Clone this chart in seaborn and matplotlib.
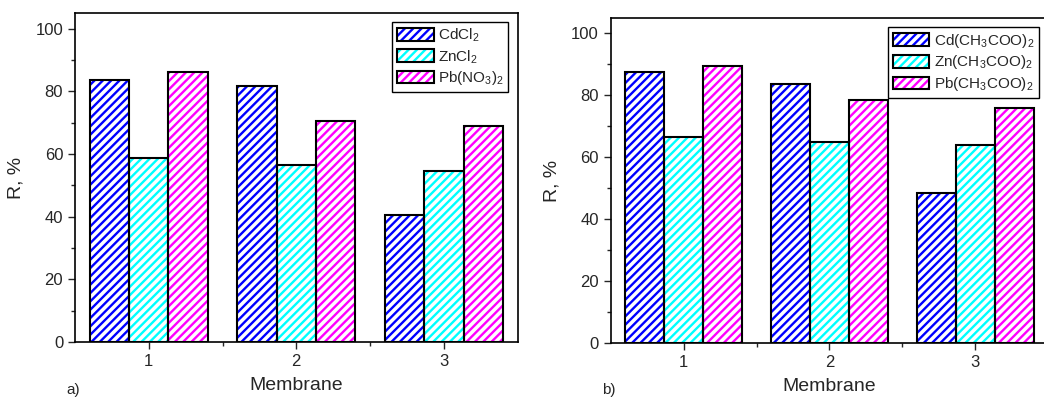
import numpy as np
import pandas as pd
import matplotlib
matplotlib.use("Agg")
import matplotlib.pyplot as plt
import seaborn as sns
from matplotlib.patches import Patch, Rectangle
from matplotlib.legend_handler import HandlerTuple

# data
membranes = ["1", "2", "3"]
colors = ["#0000ff", "#00ffff", "#ff00ff"]

labels_a = ["CdCl$_2$", "ZnCl$_2$", "Pb(NO$_3$)$_2$"]
cd_a = [83.5, 81.7, 40.4]
zn_a = [58.6, 56.6, 54.6]
pb_a = [86.1, 70.7, 68.9]

labels_b = ["Cd(CH$_3$COO)$_2$", "Zn(CH$_3$COO)$_2$", "Pb(CH$_3$COO)$_2$"]
cd_b = [87.5, 83.7, 48.3]
zn_b = [66.4, 64.8, 64.0]
pb_b = [89.5, 78.6, 75.9]

sns.set_style("ticks")
plt.rcParams["font.family"] = ["Liberation Sans", "DejaVu Sans"]
plt.rcParams["mathtext.default"] = "regular"
plt.rcParams["hatch.linewidth"] = 1.7

HATCH = "////"


def draw_panel(ax, labels, series, tag):
    df = pd.DataFrame({
        "Membrane": membranes * 3,
        "salt": np.repeat(labels, 3),
        "R": np.concatenate(series),
    })
    sns.barplot(data=df, x="Membrane", y="R", hue="salt", hue_order=labels,
                palette=colors, width=0.8, legend=False, ax=ax, errorbar=None)
    for cont, col in zip(ax.containers, colors):
        for bar in cont:
            bar.set_facecolor("white")
            bar.set_edgecolor(col)
            bar.set_hatch(HATCH)
            bar.set_linewidth(0)
            ax.add_patch(Rectangle(bar.get_xy(), bar.get_width(), bar.get_height(),
                                   fill=False, edgecolor="black", linewidth=1.5, zorder=3))
    ax.set_xlim(-0.5, 2.5)
    ax.set_ylim(0, 105)
    ax.set_yticks([0, 20, 40, 60, 80, 100])
    ax.set_yticks(np.arange(10, 105, 20), minor=True)
    ax.set_xticks([0.5, 1.5], minor=True)
    ax.tick_params(axis="both", which="major", length=5, width=1, labelsize=12, direction="out")
    ax.tick_params(axis="both", which="minor", length=3, width=1, direction="out")
    for sp in ax.spines.values():
        sp.set_visible(True)
        sp.set_linewidth(1.2)
        sp.set_color("black")
    ax.set_xlabel("Membrane", fontsize=14, labelpad=6)
    ax.set_ylabel("R, %", fontsize=14, labelpad=8)
    handles = [(Patch(facecolor="white", edgecolor=c, hatch=HATCH, linewidth=0),
                Patch(fill=False, edgecolor="black", linewidth=1.5)) for c in colors]
    leg = ax.legend(handles, labels, loc="upper right", fontsize=11,
                    handler_map={tuple: HandlerTuple(ndivide=1, pad=0)},
                    handlelength=2.4, handleheight=0.9, handletextpad=0.3,
                    labelspacing=0.25, borderpad=0.3, borderaxespad=0.6,
                    fancybox=False, framealpha=1, edgecolor="black")
    leg.get_frame().set_linewidth(1)
    ax.text(0.011, -0.145, tag, transform=ax.transAxes, fontsize=11, ha="right", va="center")


fig = plt.figure(figsize=(10.44, 3.98), dpi=100)
ax1 = fig.add_axes([0.0718, 0.141, 0.424, 0.826])
ax2 = fig.add_axes([0.585, 0.138, 0.419, 0.817])

draw_panel(ax1, labels_a, [cd_a, zn_a, pb_a], "a)")
draw_panel(ax2, labels_b, [cd_b, zn_b, pb_b], "b)")

fig.savefig("out.png", dpi=100)
